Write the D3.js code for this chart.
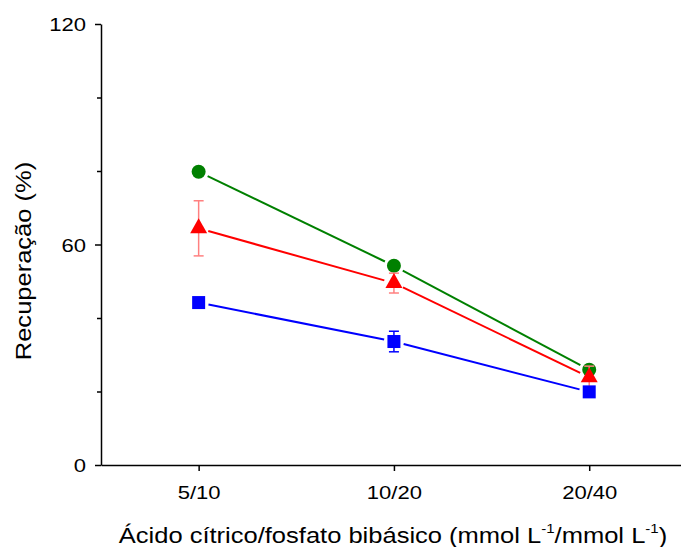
<!DOCTYPE html>
<html><head><meta charset="utf-8">
<script src="https://cdn.jsdelivr.net/npm/d3@7"></script>
<style>body{margin:0;background:#fff;} text{font-family:"Liberation Sans",Arial,sans-serif;}</style>
</head><body>
<svg id="c" width="681" height="547"></svg>
<script>
const categories = ["5/10", "10/20", "20/40"];
const greenValues = [79.8, 54.2, 25.9];
const greenErrors = [0, 0, 0];
const redValues = [64.4, 49.5, 23.9];
const redErrors = [7.5, 2.7, 3.0];
const blueValues = [44.2, 33.6, 19.9];
const blueErrors = [0, 2.8, 0];
const yTicks = [0, 60, 120];
const yMinorTicks = [20, 40, 80, 100];

const SX = 1.16; // horizontal stretch of text
const svg = d3.select("#c");
const x = d3.scaleLinear().domain([-0.5, 2.47]).range([101, 681]);
const y = d3.scaleLinear().domain([0, 120]).range([465, 24]);

// axes
const xAxis = d3.axisBottom(x).tickValues([0,1,2]).tickFormat(i => categories[i]).tickSize(6).tickSizeOuter(0);
const gx = svg.append("g").attr("transform","translate(0,465)").call(xAxis);
gx.select(".domain").attr("stroke","#000").attr("stroke-width",1.5);
gx.selectAll(".tick line").attr("stroke","#000").attr("stroke-width",1.5);
gx.selectAll(".tick text").attr("font-size",19).attr("fill","#000")
  .attr("y",34).attr("dy",0).attr("transform",`scale(${SX},1)`)
  .attr("font-family","Liberation Sans, Arial, sans-serif");

const yAxis = d3.axisLeft(y).tickValues(yTicks).tickSize(6).tickSizeOuter(0);
const gy = svg.append("g").attr("transform","translate(101,0)").call(yAxis);
gy.select(".domain").attr("stroke","#000").attr("stroke-width",1.5);
gy.selectAll(".tick line").attr("stroke","#000").attr("stroke-width",1.5);
gy.selectAll(".tick text").attr("font-size",19).attr("fill","#000")
  .attr("x",0).attr("dy","0.35em").attr("transform",`translate(-15,0) scale(${SX},1)`)
  .attr("font-family","Liberation Sans, Arial, sans-serif");
const gym = svg.append("g").attr("transform","translate(101,0)").call(d3.axisLeft(y).tickValues(yMinorTicks).tickSize(4).tickFormat(""));
gym.select(".domain").remove();
gym.selectAll(".tick line").attr("stroke","#000").attr("stroke-width",1.5);

// axis titles
svg.append("text").attr("transform",`translate(31,261) rotate(-90) scale(${SX},1)`).attr("text-anchor","middle")
  .attr("font-size",22).text("Recuperação (%)");
const xt = svg.append("text").attr("transform",`translate(393,543) scale(${SX},1)`).attr("text-anchor","middle").attr("font-size",22);
xt.append("tspan").text("Ácido cítrico/fosfato bibásico (mmol L");
xt.append("tspan").attr("font-size",13).attr("dy",-10).text("-1");
xt.append("tspan").attr("dy",10).text("/mmol L");
xt.append("tspan").attr("font-size",13).attr("dy",-10).text("-1");
xt.append("tspan").attr("dy",10).text(")");

const series = [
  {vals: greenValues, errs: greenErrors, color:"#008000", errColor:"#008000", shape:"circle"},
  {vals: redValues, errs: redErrors, color:"#ff0000", errColor:"#ff8080", shape:"triangle"},
  {vals: blueValues, errs: blueErrors, color:"#0000ff", errColor:"#0000ff", shape:"square"}
];

const gap = 10;
series.forEach(s => {
  const g = svg.append("g");
  for (let i = 0; i < s.vals.length - 1; i++) {
    const x1 = x(i), y1 = y(s.vals[i]), x2 = x(i+1), y2 = y(s.vals[i+1]);
    const L = Math.hypot(x2-x1, y2-y1), ux = (x2-x1)/L, uy = (y2-y1)/L;
    g.append("line").attr("x1", x1+ux*gap).attr("y1", y1+uy*gap)
      .attr("x2", x2-ux*gap).attr("y2", y2-uy*gap)
      .attr("stroke", s.color).attr("stroke-width", 2);
  }
});
series.forEach(s => {
  const g = svg.append("g");
  s.vals.forEach((v,i) => {
    const e = s.errs[i];
    if (e > 0) {
      const cx = x(i);
      g.append("line").attr("x1",cx).attr("x2",cx).attr("y1",y(v+e)).attr("y2",y(v-e)).attr("stroke",s.errColor).attr("stroke-width",1.5);
      [v+e, v-e].forEach(t => g.append("line").attr("x1",cx-5).attr("x2",cx+5).attr("y1",y(t)).attr("y2",y(t)).attr("stroke",s.errColor).attr("stroke-width",1.5));
    }
  });
  s.vals.forEach((v,i) => {
    const cx = x(i), cy = y(v);
    if (s.shape === "circle") g.append("circle").attr("cx",cx).attr("cy",cy).attr("r",7).attr("fill",s.color);
    else if (s.shape === "square") g.append("rect").attr("x",cx-6.5).attr("y",cy-6.5).attr("width",13).attr("height",13).attr("fill",s.color);
    else g.append("path").attr("d",`M${cx},${cy-10}L${cx+8.5},${cy+5}L${cx-8.5},${cy+5}Z`).attr("fill",s.color);
  });
});
</script>
</body></html>
